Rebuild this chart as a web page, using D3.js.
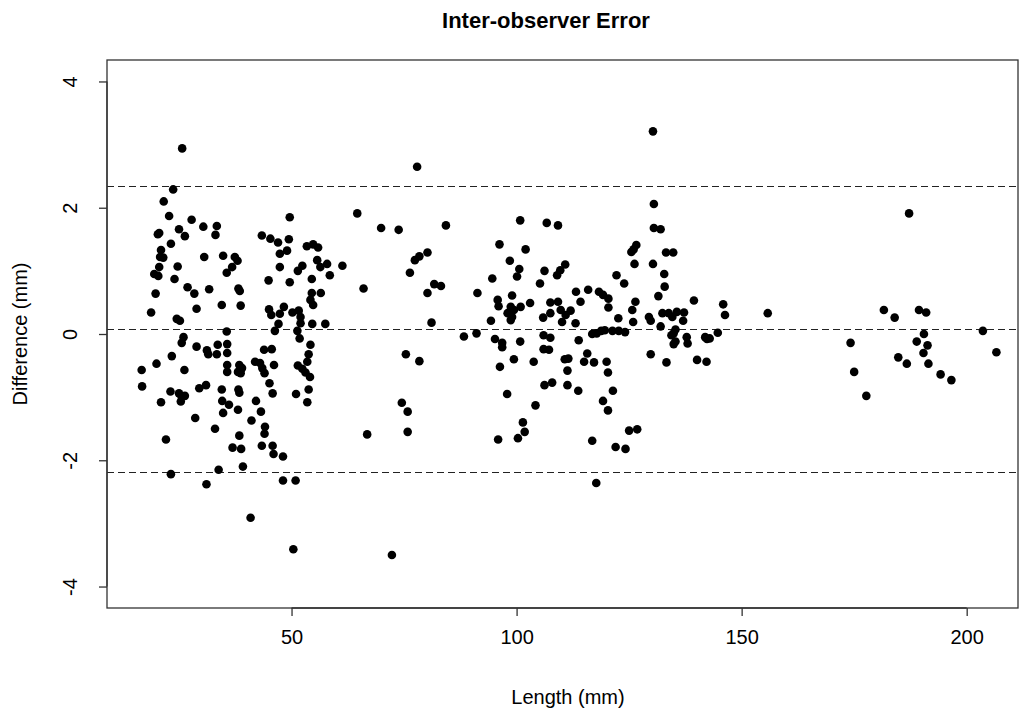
<!DOCTYPE html>
<html>
<head>
<meta charset="utf-8">
<script src="https://cdn.jsdelivr.net/npm/d3@7"></script>
<style>
  html, body { margin: 0; padding: 0; background: #fff; }
  svg { display: block; }
  text { font-family: "Liberation Sans", Arial, sans-serif; fill: #000; }
</style>
</head>
<body>
<script>
// ---- data ----
const lengthMm = [
  25.7,23.7,21.6,22.8,27.8,30.4,33.4,33.1,25.0,26.3,20.3,20.6,23.2,21.0,20.8,21.5,20.6,24.7,30.6,34.8,
  37.4,38.0,36.8,19.5,20.4,24.0,26.9,28.4,31.7,35.6,38.2,38.5,19.8,18.8,28.9,34.5,38.7,24.5,25.2,26.0,
  35.6,25.6,28.9,31.2,31.5,33.6,33.4,35.7,35.7,23.4,20.0,16.7,26.2,35.7,35.7,38.4,39.0,38.1,38.7,16.8,
  23.1,25.0,25.6,25.4,26.3,29.5,31.0,34.5,38.2,38.4,21.0,34.6,36.1,34.8,38.1,28.6,33.0,38.4,36.9,38.8,
  22.1,23.2,33.8,39.2,31.1,40.9,41.1,
  49.6,43.4,45.3,47.0,49.4,47.4,49.0,53.4,54.8,55.9,47.4,52.4,51.4,55.7,56.4,57.9,58.5,61.3,44.9,49.6,
  54.5,54.5,56.5,54.2,54.8,45.0,45.5,48.3,47.4,50.2,51.6,52.0,52.0,46.3,47.1,51.3,54.6,57.5,51.8,54.2,
  53.8,53.5,43.9,45.6,41.9,43.0,43.5,44.0,46.1,51.4,52.4,53.1,54.1,45.1,45.8,51.0,53.8,53.5,42.1,43.2,
  44.1,44.0,43.4,45.8,46.0,48.1,48.1,50.9,50.4,
  77.9,64.6,69.9,73.8,84.3,77.4,78.4,80.2,76.3,66.0,80.2,81.7,83.2,81.1,88.3,75.4,78.4,74.5,75.8,66.8,
  75.8,72.3,
  91.1,95.2,100.8,106.0,107.5,100.8,106.7,109.2,96.2,102.0,98.5,100.6,100.1,110.8,109.7,109.0,106.2,94.6,105.2,91.3,
  99.0,95.8,96.0,98.7,99.4,98.0,99.0,100.9,103.0,107.5,109.2,107.5,109.8,110.9,110.1,105.9,94.3,98.7,96.8,96.8,
  106.0,107.2,99.4,103.8,96.3,110.7,111.5,111.3,106.2,107.9,111.3,97.9,104.2,101.4,101.8,95.9,100.3,
  130.3,130.5,130.5,132.0,126.6,126.0,125.5,133.2,134.8,126.2,130.3,122.2,123.9,132.8,132.9,113.2,115.9,118.3,119.2,120.4,
  114.2,120.4,126.4,125.7,131.5,112.0,113.1,122.6,125.9,129.4,129.8,132.4,132.0,116.8,117.8,118.8,119.6,121.3,122.7,124.1,
  113.8,115.7,115.0,117.2,120.0,120.3,129.8,133.3,113.7,121.4,119.2,120.3,125.0,126.8,116.8,122.0,124.2,117.7,139.4,145.9,
  146.3,155.8,133.8,135.6,137.2,134.6,137.0,135.3,134.9,134.4,135.3,134.9,137.8,138.0,141.9,142.9,142.3,144.7,140.1,142.2,
  174.2,175.0,177.7,181.6,184.0,184.8,186.7,187.2,188.9,189.4,191.0,190.5,191.3,190.4,191.5,194.2,196.6,203.6,206.6
];
const differenceMm = [
  2.94,2.29,2.10,1.87,1.81,1.70,1.71,1.57,1.66,1.55,1.58,1.60,1.43,1.33,1.22,1.21,1.06,1.07,1.22,1.24,
  1.22,1.16,1.06,0.95,0.92,0.87,0.74,0.64,0.71,0.97,0.72,0.68,0.64,0.34,0.40,0.46,0.45,0.24,0.21,-0.05,
  0.04,-0.14,-0.20,-0.26,-0.32,-0.17,-0.32,-0.16,-0.30,-0.35,-0.47,-0.57,-0.57,-0.49,-0.60,-0.49,-0.54,-0.60,-0.62,-0.83,
  -0.91,-0.94,-0.99,-1.07,-0.98,-0.86,-0.81,-0.88,-0.88,-0.93,-1.08,-1.06,-1.12,-1.25,-1.20,-1.33,-1.50,-1.61,-1.80,-1.82,
  -1.67,-2.22,-2.15,-2.10,-2.38,-2.91,-1.37,
  1.85,1.56,1.51,1.45,1.50,1.27,1.32,1.39,1.42,1.37,1.06,1.08,1.00,1.17,1.06,1.11,0.93,1.08,0.85,0.82,
  0.87,0.65,0.65,0.54,0.46,0.39,0.30,0.43,0.32,0.34,0.37,0.27,0.17,0.05,0.16,0.05,0.16,0.16,-0.07,-0.17,
  -0.32,-0.44,-0.25,-0.24,-0.44,-0.46,-0.54,-0.62,-0.49,-0.50,-0.55,-0.61,-0.68,-0.78,-0.94,-0.95,-0.88,-1.08,-1.06,-1.23,
  -1.47,-1.58,-1.77,-1.77,-1.90,-1.94,-2.32,-2.32,-3.41,
  2.65,1.91,1.68,1.65,1.72,1.17,1.23,1.29,0.97,0.72,0.65,0.79,0.76,0.18,-0.04,-0.32,-0.43,-1.09,-1.23,-1.59,
  -1.55,-3.50,
  0.01,-0.08,-0.12,-0.02,-0.06,1.80,1.76,1.72,1.42,1.34,1.16,1.03,0.91,1.10,1.01,0.93,1.00,0.88,0.80,0.65,
  0.61,0.54,0.44,0.43,0.38,0.33,0.27,0.43,0.49,0.50,0.51,0.33,0.38,0.30,0.19,0.26,0.21,0.22,-0.14,-0.21,
  -0.24,-0.25,-0.40,-0.44,-0.52,-0.40,-0.39,-0.58,-0.81,-0.77,-0.81,-0.95,-1.13,-1.40,-1.55,-1.67,-1.65,
  3.21,2.06,1.68,1.66,1.41,1.34,1.30,1.29,1.29,1.11,1.11,0.93,0.80,0.95,0.75,0.67,0.70,0.67,0.62,0.56,
  0.51,0.42,0.51,0.38,0.60,0.37,0.17,0.25,0.19,0.27,0.21,0.33,0.12,0.00,0.01,0.05,0.06,0.05,0.05,0.03,
  -0.10,-0.31,-0.44,-0.45,-0.44,-0.61,-0.32,-0.45,-0.90,-0.90,-1.06,-1.21,-1.53,-1.51,-1.69,-1.79,-1.82,-2.36,0.53,0.47,
  0.30,0.33,0.33,0.35,0.34,0.27,0.21,0.07,0.01,-0.02,-0.12,-0.16,-0.05,-0.15,-0.05,-0.07,-0.08,0.02,-0.41,-0.44,
  -0.14,-0.60,-0.98,0.38,0.26,-0.37,-0.47,1.91,-0.12,0.38,0.34,0.00,-0.18,-0.30,-0.47,-0.64,-0.73,0.05,-0.29
];
const xTicks = [50, 100, 150, 200];
const yTicks = [-4, -2, 0, 2, 4];
const refLines = [2.34, 0.07, -2.20];   // upper limit, mean, lower limit
const titleText = "Inter-observer Error";
const xLabel = "Length (mm)";
const yLabel = "Difference (mm)";

// ---- layout ----
const W = 1020, H = 712;
const plot = { left: 107, right: 1018, top: 60, bottom: 608 };

const x = d3.scaleLinear().domain([9.0, 211.4]).range([plot.left, plot.right]);
const y = d3.scaleLinear().domain([-4.34, 4.34]).range([plot.bottom, plot.top]);

const svg = d3.select("body").append("svg").attr("width", W).attr("height", H);

// reference lines
svg.append("g").selectAll("line").data(refLines).join("line")
  .attr("x1", plot.left).attr("x2", plot.right)
  .attr("y1", d => y(d)).attr("y2", d => y(d))
  .attr("stroke", "#222").attr("stroke-width", 1.1)
  .attr("stroke-dasharray", "7,4")
  .attr("shape-rendering", "crispEdges");

// points
const pts = lengthMm.map((v, i) => ({ x: v, y: differenceMm[i] }));
svg.append("g").selectAll("circle").data(pts).join("circle")
  .attr("cx", d => x(d.x)).attr("cy", d => y(d.y))
  .attr("r", 4.3).attr("fill", "#000");

// box
svg.append("rect")
  .attr("x", plot.left).attr("y", plot.top)
  .attr("width", plot.right - plot.left).attr("height", plot.bottom - plot.top)
  .attr("fill", "none").attr("stroke", "#333").attr("stroke-width", 1.3);

const FS = 20;
const fmt = d => String(d);   // plain hyphen-minus like R
// x axis (R style: line spans first to last tick)
const xAxis = d3.axisBottom(x).tickValues(xTicks).tickSize(8).tickPadding(14).tickFormat(fmt);
const gx = svg.append("g").attr("transform", `translate(0,${plot.bottom})`).call(xAxis);
gx.select(".domain").attr("d", `M${x(xTicks[0])},0H${x(xTicks[xTicks.length-1])}`).attr("stroke", "#333").attr("stroke-width", 1.3);
gx.selectAll(".tick line").attr("stroke", "#333").attr("stroke-width", 1.3);
gx.selectAll(".tick text").attr("font-size", FS).attr("fill", "#000").attr("font-family", "Liberation Sans, Arial, sans-serif");

// y axis
const yAxis = d3.axisLeft(y).tickValues(yTicks).tickSize(8).tickPadding(0).tickFormat(fmt);
const gy = svg.append("g").attr("transform", `translate(${plot.left},0)`).call(yAxis);
gy.select(".domain").attr("d", `M0,${y(yTicks[0])}V${y(yTicks[yTicks.length-1])}`).attr("stroke", "#333").attr("stroke-width", 1.3);
gy.selectAll(".tick line").attr("stroke", "#333").attr("stroke-width", 1.3);
gy.selectAll(".tick text")
  .attr("font-size", FS).attr("fill", "#000").attr("font-family", "Liberation Sans, Arial, sans-serif")
  .attr("x", null).attr("dy", null)
  .attr("text-anchor", "middle")
  .attr("transform", "translate(-37,0) rotate(-90)")
  .attr("dy", "0.35em");

// title and labels
svg.append("text").attr("x", 546).attr("y", 28).attr("text-anchor", "middle")
  .attr("font-size", 22).attr("font-weight", "bold").text(titleText);
svg.append("text").attr("x", 568).attr("y", 704).attr("text-anchor", "middle")
  .attr("font-size", FS).text(xLabel);
svg.append("text").attr("transform", `translate(27,${(plot.top + plot.bottom) / 2}) rotate(-90)`)
  .attr("text-anchor", "middle").attr("font-size", FS).text(yLabel);
</script>
</body>
</html>
